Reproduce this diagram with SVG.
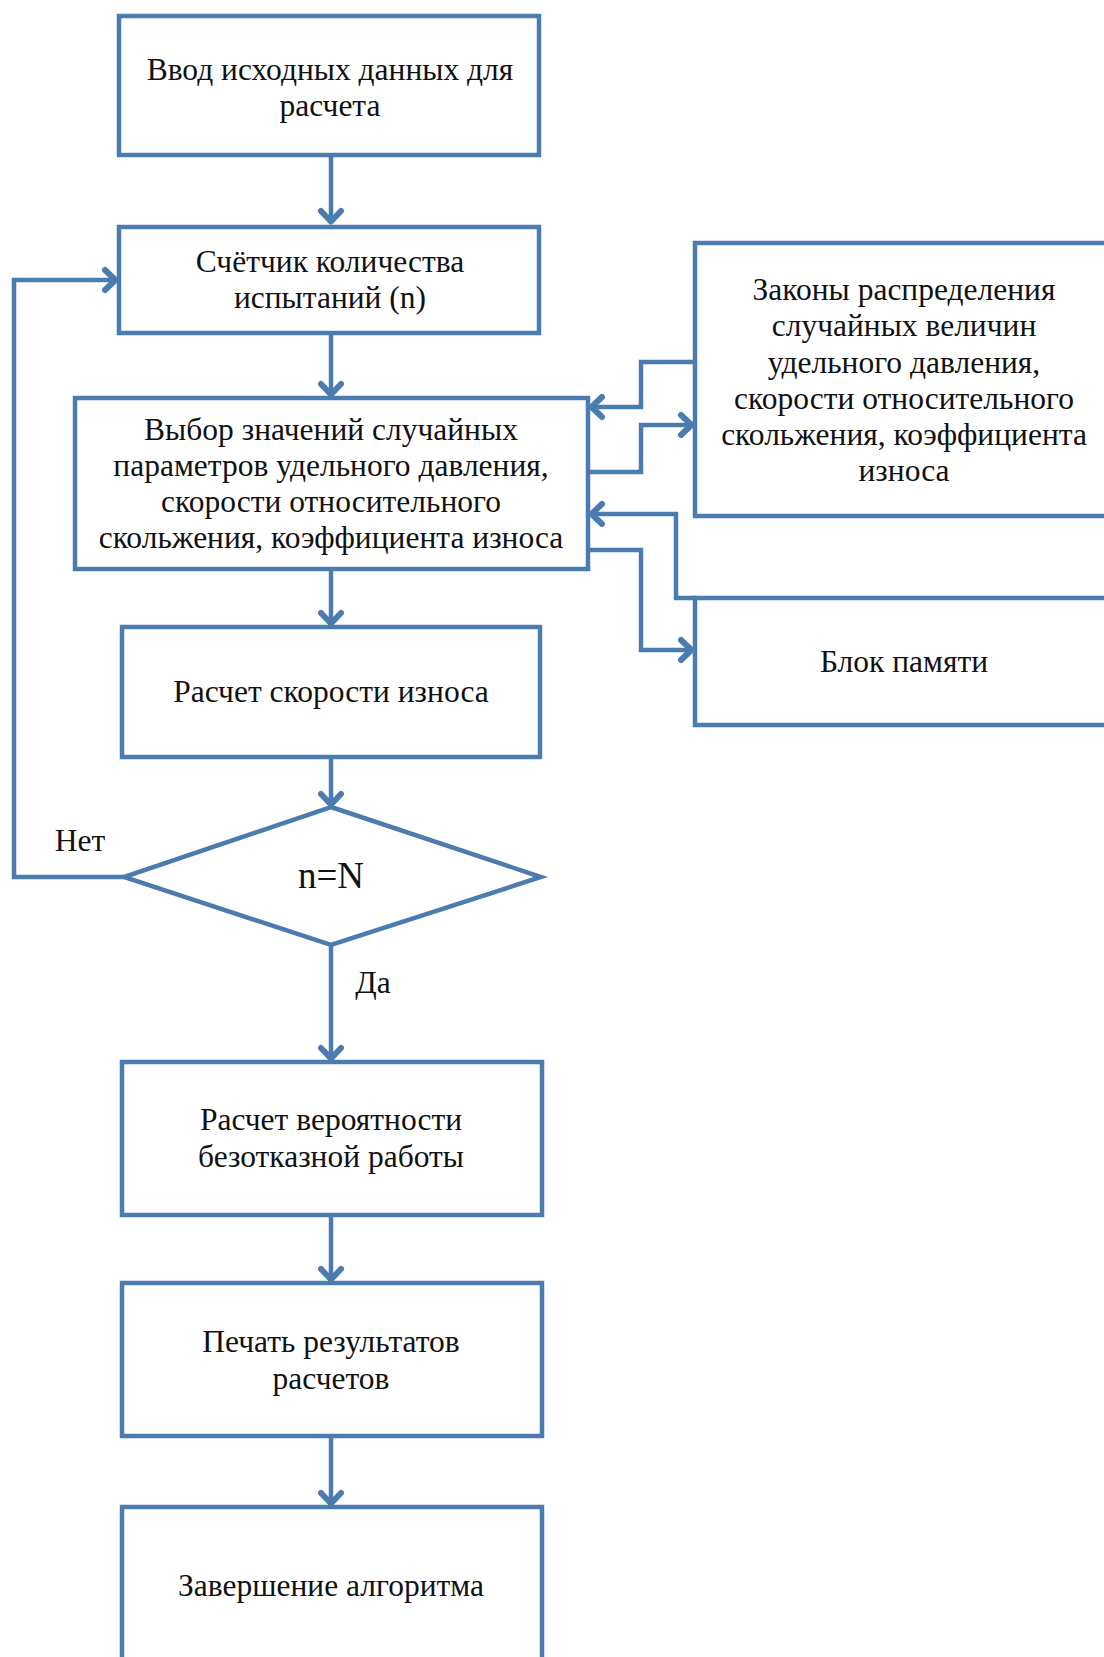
<svg xmlns="http://www.w3.org/2000/svg" width="1104" height="1657" viewBox="0 0 1104 1657">
<style>
.box{fill:#fff;stroke:#4B7CB0;stroke-width:4.5}
.con{fill:none;stroke:#4B7CB0;stroke-width:4.5;stroke-linejoin:miter}
text{font-family:"Liberation Serif","Times New Roman",serif;font-size:31.5px;fill:#111;text-anchor:middle}
.big{font-size:37px}
</style>
<defs>
<marker id="arr" markerUnits="userSpaceOnUse" markerWidth="30" markerHeight="30" viewBox="-15 -15 30 30" refX="0" refY="0" orient="auto" overflow="visible">
<path d="M-12,-10 L-1.5,0 L-12,10" fill="none" stroke="#4B7CB0" stroke-width="6" stroke-linecap="round" stroke-linejoin="round"/>
</marker>
</defs>
<rect width="1104" height="1657" fill="#fff"/>
<g id="connectors">
<path class="con" d="M331,155 V223" marker-end="url(#arr)"/>
<path class="con" d="M331,333 V396" marker-end="url(#arr)"/>
<path class="con" d="M331,569 V625" marker-end="url(#arr)"/>
<path class="con" d="M331,757 V806" marker-end="url(#arr)"/>
<path class="con" d="M124,877 H14 V280 H117" marker-end="url(#arr)"/>
<path class="con" d="M331,945 V1060" marker-end="url(#arr)"/>
<path class="con" d="M331,1215 V1281" marker-end="url(#arr)"/>
<path class="con" d="M331,1436 V1505" marker-end="url(#arr)"/>
<path class="con" d="M695,362 H641 V407 H590" marker-end="url(#arr)"/>
<path class="con" d="M588,472 H641 V425 H693" marker-end="url(#arr)"/>
<path class="con" d="M697,598 H676 V514 H590" marker-end="url(#arr)"/>
<path class="con" d="M588,550 H641 V650 H693" marker-end="url(#arr)"/>
</g>
<g id="n1"><rect class="box" x="119" y="16" width="420" height="139"/>
<text x="330" y="80">Ввод исходных данных для</text><text x="330" y="116">расчета</text></g>
<g id="n2"><rect class="box" x="119" y="227" width="420" height="106"/>
<text x="330" y="272">Счётчик количества</text><text x="330" y="308">испытаний (n)</text></g>
<g id="n3"><rect class="box" x="75" y="398" width="513" height="171"/>
<text x="331" y="440">Выбор значений случайных</text><text x="331" y="476">параметров удельного давления,</text><text x="331" y="512">скорости относительного</text><text x="331" y="548">скольжения, коэффициента износа</text></g>
<g id="n4"><rect class="box" x="695" y="243" width="416" height="273"/>
<text x="904" y="300">Законы распределения</text><text x="904" y="336">случайных величин</text><text x="904" y="373">удельного давления,</text><text x="904" y="409">скорости относительного</text><text x="904" y="445">скольжения, коэффициента</text><text x="904" y="481">износа</text></g>
<g id="n5"><rect class="box" x="695" y="598" width="416" height="127"/>
<text x="904" y="672">Блок памяти</text></g>
<g id="n6"><rect class="box" x="122" y="627" width="418" height="130"/>
<text x="331" y="702">Расчет скорости износа</text></g>
<g id="n7"><polygon class="box" points="331,807 541,877 331,945 124,877"/>
<text class="big" x="331" y="888">n=N</text></g>
<text x="80" y="851">Нет</text>
<text x="373" y="993">Да</text>
<g id="n8"><rect class="box" x="122" y="1062" width="420" height="153"/>
<text x="331" y="1130">Расчет вероятности</text><text x="331" y="1167">безотказной работы</text></g>
<g id="n9"><rect class="box" x="122" y="1283" width="420" height="153"/>
<text x="331" y="1352">Печать результатов</text><text x="331" y="1389">расчетов</text></g>
<g id="n10"><rect class="box" x="122" y="1507" width="420" height="160"/>
<text x="331" y="1596">Завершение алгоритма</text></g>
</svg>
